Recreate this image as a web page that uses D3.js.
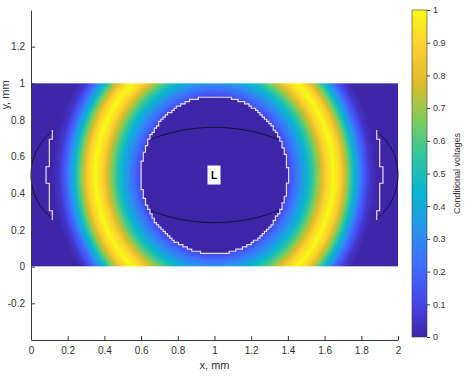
<!DOCTYPE html>
<html>
<head>
<meta charset="utf-8">
<script src="https://cdn.jsdelivr.net/npm/d3@7"></script>
<style>
body { margin: 0; background: #fff; }
svg text { font-family: "Liberation Sans", Arial, sans-serif; fill: #333; }
</style>
</head>
<body>
<svg id="chart" width="469" height="376"></svg>
<script>
// parula colormap stops (0 -> 1)
const parula = ["#3e26a8", "#4747eb", "#3e6fff", "#2796eb", "#08b5d0", "#31c69f", "#81cc59", "#dcbd29", "#fccf30", "#f9fb15"];

// ring profile: r = 1 on the yellow crest
const ringR = [0, 0.60, 0.64, 0.70, 0.76, 0.82, 0.88, 0.94, 1.0, 1.06, 1.12, 1.18, 1.24, 1.30, 1.36, 3];
const ringV = [0, 0.05, 0.15, 0.27, 0.40, 0.55, 0.72, 0.90, 1.0, 0.88, 0.66, 0.42, 0.20, 0.06, 0, 0];

const ringCenter = [1, 0.5];
const ringAxes = [0.65, 0.69];     // mm, crest ellipse
const innerAxes = [0.40, 0.43];    // mm, white stepped contour
const cellSize = 0.012;            // mm, grid step of the contour

// white side contours (left one, right one is mirrored)
const sideLine = [[0.116, 0.745], [0.116, 0.695], [0.100, 0.695], [0.100, 0.545], [0.082, 0.545],
                  [0.082, 0.455], [0.100, 0.455], [0.100, 0.305], [0.116, 0.305], [0.116, 0.255]];

const xTicks = [0, 0.2, 0.4, 0.6, 0.8, 1, 1.2, 1.4, 1.6, 1.8, 2];
const yTicks = [-0.2, 0, 0.2, 0.4, 0.6, 0.8, 1, 1.2];
const cTicks = [0, 0.1, 0.2, 0.3, 0.4, 0.5, 0.6, 0.7, 0.8, 0.9, 1];

const svg = d3.select("#chart");

const x = d3.scaleLinear().domain([0, 2]).range([31, 398]);
const y = d3.scaleLinear().domain([-0.4, 1.4]).range([340, 10]);
const c = d3.scaleLinear().domain([0, 1]).range([337, 10]);

const color = d3.scaleLinear()
    .domain(parula.map((d, i) => i / (parula.length - 1)))
    .range(parula)
    .interpolate(d3.interpolateRgb);
const profile = d3.scaleLinear().domain(ringR).range(ringV).clamp(true);

function insideInner(xm, ym) {
    const cx = (Math.floor(xm / cellSize) + 0.5) * cellSize;
    const cy = (Math.floor(ym / cellSize) + 0.5) * cellSize;
    const dx = (cx - ringCenter[0]) / innerAxes[0], dy = (cy - ringCenter[1]) / innerAxes[1];
    return dx * dx + dy * dy < 1;
}

// heatmap
const x0 = x(0), y1 = y(1);
const W = Math.round(x(2) - x0), H = Math.round(y(0) - y1);
const canvas = document.createElement("canvas");
canvas.width = W; canvas.height = H;
const ctx = canvas.getContext("2d");
const img = ctx.createImageData(W, H);
for (let j = 0; j < H; j++) {
    const ym = y.invert(y1 + j + 0.5);
    for (let i = 0; i < W; i++) {
        const xm = x.invert(x0 + i + 0.5);
        const dx = (xm - ringCenter[0]) / ringAxes[0], dy = (ym - ringCenter[1]) / ringAxes[1];
        let v = profile(Math.sqrt(dx * dx + dy * dy));
        if (insideInner(xm, ym)) v = 0;
        const col = d3.rgb(color(v));
        const k = (j * W + i) * 4;
        img.data[k] = col.r; img.data[k + 1] = col.g; img.data[k + 2] = col.b; img.data[k + 3] = 255;
    }
}
ctx.putImageData(img, 0, 0);
svg.append("image")
    .attr("x", x0).attr("y", y1).attr("width", W).attr("height", H)
    .attr("preserveAspectRatio", "none")
    .attr("href", canvas.toDataURL());

// black arcs
const line = d3.line().x(d => x(d[0])).y(d => y(d[1]));
const leftArc = d3.range(127.8, 232.3, 2).concat([232.2]).map(a => [0.3 + 0.3 * Math.cos(a * Math.PI / 180), 0.5 + 0.3 * Math.sin(a * Math.PI / 180)]);
const rightArc = leftArc.map(p => [2 - p[0], p[1]]);
const midTop = d3.range(0.64, 1.361, 0.01).map(v => [v, -0.19 + Math.sqrt(0.95 * 0.95 - (v - 1) * (v - 1))]);
const midBottom = midTop.map(p => [p[0], 1 - p[1]]);
svg.selectAll("path.arc").data([leftArc, rightArc, midTop, midBottom]).join("path")
    .attr("class", "arc").attr("d", line)
    .attr("fill", "none").attr("stroke", "#14122e").attr("stroke-width", 1);

// white stepped contour around the centre
const rows = [];
for (let j = Math.floor((ringCenter[1] - innerAxes[1]) / cellSize) - 1; j <= Math.ceil((ringCenter[1] + innerAxes[1]) / cellSize); j++) {
    const cy = (j + 0.5) * cellSize;
    const t = (cy - ringCenter[1]) / innerAxes[1];
    if (Math.abs(t) >= 1) continue;
    const hw = innerAxes[0] * Math.sqrt(1 - t * t);
    const kMin = Math.ceil((ringCenter[0] - hw) / cellSize - 0.5);
    const kMax = Math.floor((ringCenter[0] + hw) / cellSize - 0.5);
    rows.push({ y0: j * cellSize, y1: (j + 1) * cellSize, xl: kMin * cellSize, xr: (kMax + 1) * cellSize });
}
const inner = [];
rows.slice().reverse().forEach(r => { inner.push([r.xr, r.y1], [r.xr, r.y0]); });
rows.forEach(r => { inner.push([r.xl, r.y0], [r.xl, r.y1]); });
inner.push(inner[0]);

const rightLine = sideLine.map(p => [2 - p[0], p[1]]);
svg.selectAll("path.white").data([inner, sideLine, rightLine]).join("path")
    .attr("class", "white").attr("d", line)
    .attr("fill", "none").attr("stroke", "#e4def6").attr("stroke-width", 1.2);

// L marker
svg.append("rect").attr("x", x(1) - 7).attr("y", y(0.5) - 9.5).attr("width", 13).attr("height", 19).attr("fill", "#fff");
svg.append("text").attr("x", x(1) - 0.5).attr("y", y(0.5) + 4).attr("text-anchor", "middle")
    .attr("font-size", 10).attr("font-weight", "bold").style("fill", "#000").text("L");

// axes
const fmt = d => String(d);
const gx = svg.append("g").attr("transform", `translate(0,${y(-0.4)})`)
    .call(d3.axisBottom(x).tickValues(xTicks).tickFormat(fmt).tickSizeInner(-4).tickSizeOuter(0).tickPadding(7));
const gy = svg.append("g").attr("transform", `translate(${x(0)},0)`)
    .call(d3.axisLeft(y).tickValues(yTicks).tickFormat(fmt).tickSizeInner(-4).tickSizeOuter(0).tickPadding(6));
[gx, gy].forEach(g => {
    g.selectAll("path, line").attr("stroke", "#3a3a3a");
    g.selectAll("text").attr("font-size", 10).attr("fill", "#333");
});

svg.append("text").attr("x", x(1)).attr("y", 369).attr("text-anchor", "middle").attr("font-size", 11).text("x, mm");
svg.append("text").attr("transform", "translate(9,95) rotate(-90)").attr("text-anchor", "middle").attr("font-size", 11).text("y, mm");

// colorbar
const grad = svg.append("defs").append("linearGradient").attr("id", "cbar")
    .attr("x1", 0).attr("y1", 1).attr("x2", 0).attr("y2", 0);
grad.selectAll("stop").data(parula).join("stop")
    .attr("offset", (d, i) => i / (parula.length - 1)).attr("stop-color", d => d);
svg.append("rect").attr("x", 412).attr("y", c(1)).attr("width", 15).attr("height", c(0) - c(1))
    .attr("fill", "url(#cbar)").attr("stroke", "#3a3a3a").attr("stroke-width", 0.6);
const gc = svg.append("g").attr("transform", "translate(427,0)")
    .call(d3.axisRight(c).tickValues(cTicks).tickFormat(fmt).tickSizeInner(3).tickSizeOuter(0).tickPadding(3));
gc.select(".domain").remove();
gc.selectAll("line").attr("stroke", "#3a3a3a");
gc.selectAll("text").attr("font-size", 9).attr("fill", "#333");
svg.append("text").attr("transform", `translate(460,${(c(0) + c(1)) / 2}) rotate(-90)`)
    .attr("text-anchor", "middle").attr("font-size", 9).text("Conditional voltages");
</script>
</body>
</html>
